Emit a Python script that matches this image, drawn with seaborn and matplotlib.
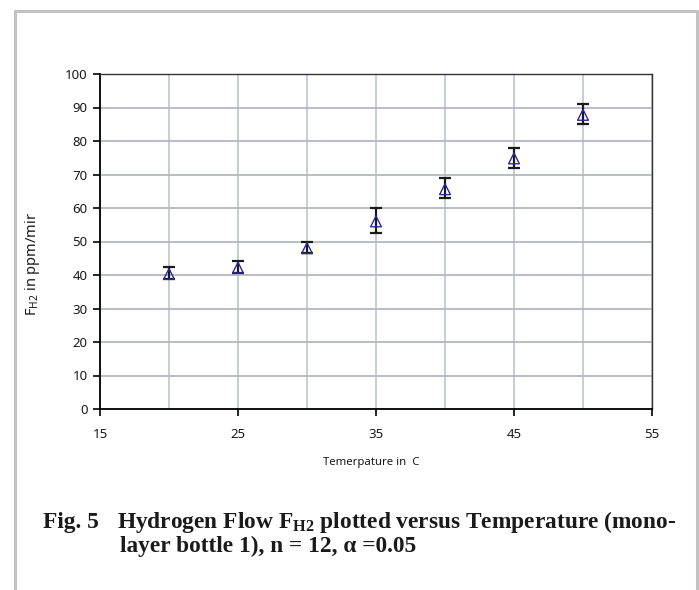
import numpy as np
import pandas as pd
import matplotlib
matplotlib.use("Agg")
import matplotlib.pyplot as plt
from matplotlib.lines import Line2D
from matplotlib.ticker import MultipleLocator
import seaborn as sns

# ---- data ----
temps = [20, 25, 30, 35, 40, 45, 50]
flow_mean = [40.3, 42.2, 48.0, 56.0, 65.6, 74.8, 87.8]
flow_low = [38.8, 40.6, 46.6, 52.5, 63.0, 72.0, 85.0]
flow_high = [42.4, 44.2, 49.9, 60.0, 69.0, 78.0, 91.0]

x_ticks = [15, 25, 35, 45, 55]
y_ticks = [0, 10, 20, 30, 40, 50, 60, 70, 80, 90, 100]

df = pd.DataFrame({"T": temps, "F": flow_mean, "lo": flow_low, "hi": flow_high})

sns.set_style("white")
plt.rcParams["font.family"] = ["Noto Sans", "DejaVu Sans"]
plt.rcParams["mathtext.fontset"] = "custom"
plt.rcParams["mathtext.sf"] = "Noto Sans"
plt.rcParams["mathtext.rm"] = "Liberation Serif"
plt.rcParams["mathtext.bf"] = "Liberation Serif:bold"

W, H = 699, 590
fig = plt.figure(figsize=(W / 100, H / 100), dpi=100)
fig.patch.set_facecolor("white")

ax = fig.add_axes([100 / W, 1 - 409 / H, (652 - 100) / W, (409 - 74) / H])

# error bars
yerr = np.vstack([df["F"] - df["lo"], df["hi"] - df["F"]])
ax.errorbar(df["T"], df["F"], yerr=yerr, fmt="none", ecolor="#1a1a1a",
            elinewidth=1.6, capsize=4, capthick=1.6, zorder=3)
# open triangle markers
sns.scatterplot(data=df, x="T", y="F", ax=ax, marker="^", s=60,
                facecolors="none", edgecolor="#2a2a96", linewidth=1.0, zorder=4)

ax.set_xlim(15, 55)
ax.set_ylim(0, 100)
ax.set_xticks(x_ticks)
ax.set_yticks(y_ticks)
ax.xaxis.set_minor_locator(MultipleLocator(5))
ax.grid(True, which="both", axis="x", color="#c4c8d0", linewidth=1.3, zorder=0)
ax.grid(True, which="major", axis="y", color="#b4b7c2", linewidth=1.3, zorder=0)
ax.set_axisbelow(True)
ax.tick_params(axis="both", which="major", direction="out", length=5, width=1.2,
               color="black", labelsize=9.5, labelcolor="#1a1a1a",
               bottom=True, left=True)
ax.tick_params(axis="x", which="major", pad=9)
ax.tick_params(axis="x", which="minor", length=0)
ax.tick_params(axis="y", pad=4)
for side in ["left", "bottom"]:
    ax.spines[side].set_color("black")
    ax.spines[side].set_linewidth(1.3)
for side in ["top", "right"]:
    ax.spines[side].set_color("#333333")
    ax.spines[side].set_linewidth(1.0)
ax.set_xlabel("")
ax.set_ylabel("")

fig.text(371 / W, 1 - 462 / H, "Temerpature in  C", ha="center", va="center",
         fontsize=8.2, color="#1a1a1a")
fig.text(33 / W, 1 - 264 / H, r"F$_{\mathsf{H2}}$ in ppm/mir", ha="center",
         va="center", rotation=90, fontsize=10.5, color="#1a1a1a")

cap_kw = dict(fontsize=16.8, fontweight="bold", family="Liberation Serif",
              color="#1a1a1a", va="baseline", ha="left")
fig.text(43 / W, 1 - 528 / H, "Fig. 5", **cap_kw)
fig.text(117 / W, 1 - 528 / H,
         r"Hydrogen Flow F$_{\mathbf{H2}}$ plotted versus Temperature (mono-", **cap_kw)
fig.text(120 / W, 1 - 552 / H, "layer bottle 1), n = 12, \u03b1 =0.05", **cap_kw)

# outer page frame
frame_c = "#c2c2c2"
fig.add_artist(Line2D([15 / W, 15 / W], [0, 1 - 11 / H], transform=fig.transFigure,
                      color=frame_c, linewidth=2.2))
fig.add_artist(Line2D([15 / W, 697 / W], [1 - 11 / H, 1 - 11 / H],
                      transform=fig.transFigure, color=frame_c, linewidth=2.2))
fig.add_artist(Line2D([697 / W, 697 / W], [0, 1 - 11 / H], transform=fig.transFigure,
                      color=frame_c, linewidth=2.2))

fig.savefig("out.png", dpi=100)
